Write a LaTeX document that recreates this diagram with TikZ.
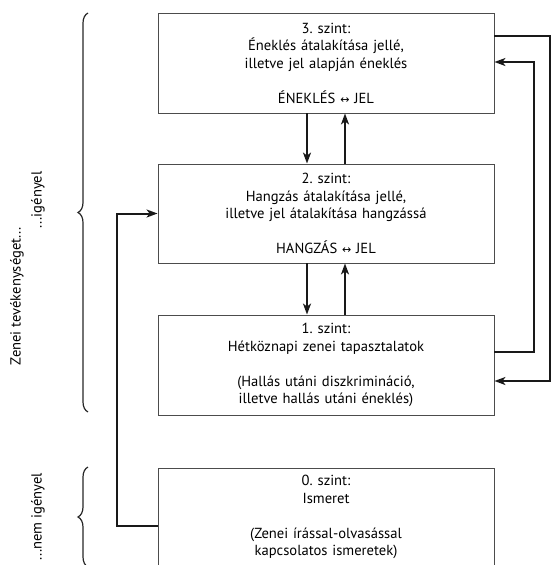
\documentclass[tikz,border=0pt]{standalone}
\usepackage{fontspec}
\setmainfont{PT Sans}
\newfontfamily\arrfont{DejaVu Sans}
\usetikzlibrary{arrows.meta,decorations.pathreplacing,calc}
\frenchspacing
\tikzset{
  szint/.style={draw=black!70, line width=0.9pt, minimum width=336pt, minimum height=100pt,
    inner sep=0pt, align=center, text width=330pt,
    font=\fontsize{14.6}{17.5}\selectfont},
  conn/.style={draw=black!90, line width=2pt, -{Stealth[length=11pt,width=8pt,inset=3pt]}},
  brc/.style={draw=black!85, line width=1.2pt, decorate, decoration={brace, amplitude=10pt}},
  side/.style={rotate=90, font=\fontsize{14.6}{16}\selectfont, inner sep=0pt}
}
\newcommand{\lrarr}{{\arrfont\fontsize{11}{11}\selectfont ↔}}
\begin{document}
\begin{tikzpicture}[x=1pt,y=-1pt]
\useasboundingbox (0,0) rectangle (552,565);
\node[szint] (b3) at (326,63) {3. szint:\\Éneklés átalakítása jellé,\\illetve jel alapján éneklés\\[17.5pt]ÉNEKLÉS \lrarr\ JEL};
\node[szint, minimum height=99pt] (b2) at (326,213.5) {2. szint:\\Hangzás átalakítása jellé,\\illetve jel átalakítása hangzássá\\[17.5pt]HANGZÁS \lrarr\ JEL};
\node[szint] (b1) at (326,365) {1. szint:\\Hétköznapi zenei tapasztalatok\\[17.5pt](Hallás utáni diszkrimináció,\\illetve hallás utáni éneklés)};
\node[szint, minimum height=98pt] (b0) at (326,517) {0. szint:\\Ismeret\\[17.5pt](Zenei írással-olvasással\\kapcsolatos ismeretek)};
% vertical arrows
\draw[conn] ([xshift=-19pt]b3.south) -- ([xshift=-19pt]b2.north);
\draw[conn] ([xshift=19pt]b2.north) -- ([xshift=19pt]b3.south);
\draw[conn] ([xshift=-19pt]b2.south) -- ([xshift=-19pt]b1.north);
\draw[conn] ([xshift=19pt]b1.north) -- ([xshift=19pt]b2.south);
% right loops
\draw[conn] ([yshift=13pt]b1.east) -- ++(40,0) |- ([yshift=1pt]b3.east);
\draw[conn] ([yshift=27pt]b3.east) -- ++(56,0) |- ([yshift=-16pt]b1.east);
% left loop
\draw[conn] ([yshift=-9pt]b0.west) -- ++(-41,0) |- (b2.west);
% braces
\coordinate (brA1) at (88,412);
\coordinate (brA2) at (88,13);
\coordinate (brB1) at (88,567);
\coordinate (brB2) at (88,467);
\draw[brc] (brA1) -- (brA2);
\draw[brc] (brB1) -- (brB2);
% side labels
\node[side] (lz) at (17,296) {Zenei tevékenységet...};
\node[side] (li) at (38,200) {...igényel};
\node[side] (ln) at (38,517) {...nem igényel};
\end{tikzpicture}
\end{document}
